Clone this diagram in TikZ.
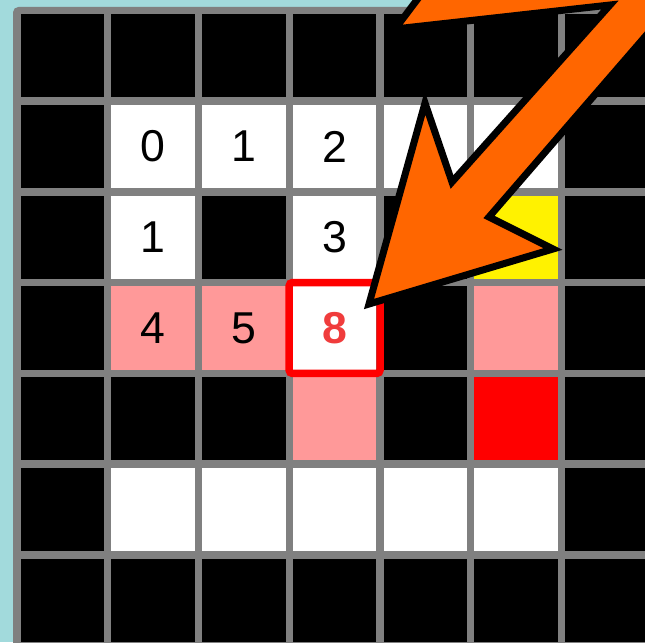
\documentclass[tikz,border=0pt]{standalone}
\usepackage{fontspec}
\setmainfont{Liberation Sans}
\definecolor{bgteal}{HTML}{A2DADC}
\definecolor{gridgray}{HTML}{808080}
\definecolor{visited}{HTML}{FF9999}
\definecolor{goalred}{HTML}{F03C3C}
\definecolor{arroworange}{HTML}{FF6600}
\tikzset{
  cell/.style={minimum size=1.67cm, inner sep=0pt, outer sep=0pt},
  digit/.style={inner sep=0pt, font=\fontsize{25.4}{30}\selectfont},
}

\begin{document}
\begin{tikzpicture}[x=0.02cm,y=-0.02cm]
    \useasboundingbox (0,0) rectangle (645,642);
    \begin{scope}
    \clip (0,0) rectangle (645,642);
    \fill[bgteal] (0,0) rectangle (645,642);
    \fill[gridgray, rounded corners=3] (13,7) rectangle (700,700);
    
    % maze cells, row by row
    \foreach \row [count=\j from 0] in {
        {black,black,black,black,black,black,black},
        {black,white,white,white,white,white,black},
        {black,white,black,white,black,yellow,black},
        {black,visited,visited,white,black,visited,black},
        {black,black,black,visited,black,red,black},
        {black,white,white,white,white,white,black},
        {black,black,black,black,black,black,black}}
      \foreach \c [count=\i from 0] in \row
        \node[cell, fill=\c] (c\i\j) at ({62.35+90.75*\i}, {55.75+90.75*\j}) {};
    
    % numbers
    \foreach \i/\j/\t in {1/1/0, 2/1/1, 3/1/2, 1/2/1, 3/2/3, 1/3/4, 2/3/5}
      \node[digit] (t\i\j) at (c\i\j) {\t};
    \node[draw=red, line width=0.15cm, minimum size=1.82cm, rounded corners=2pt] (goal) at (c33) {};
    \node[digit, text=goalred, font=\fontsize{25.4}{30}\selectfont\bfseries] (t33) at (c33) {8};
    
    % big arrow
    \draw[fill=arroworange, line width=0.14cm]
      (395,29) -- (610,5) -- (452,182) -- (425,103) -- (369,304)
      -- (553,249) -- (489,217) -- (727,-58) -- (435,-24) -- cycle;
    \end{scope}
\end{tikzpicture}
\end{document}
